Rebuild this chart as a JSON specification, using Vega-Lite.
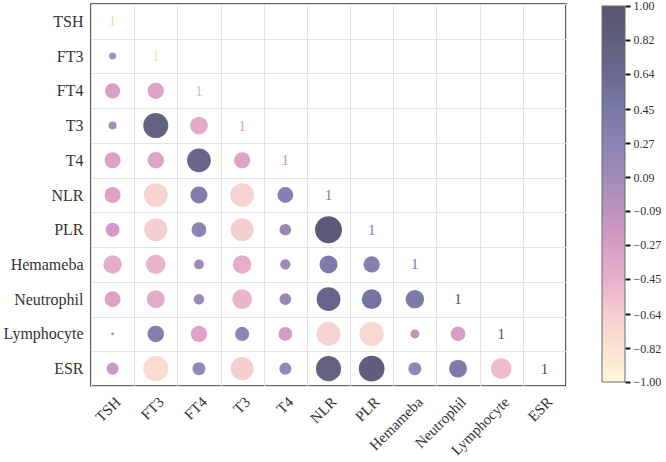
{
  "$schema": "https://vega.github.io/schema/vega-lite/v6.json",
  "background": "white",
  "padding": {"left": 0, "top": -5, "right": 0, "bottom": 0},
  "datasets": {
    "corr": [
      {"row": "TSH", "col": "TSH", "r": 1},
      {"row": "FT3", "col": "TSH", "r": 0.06}, {"row": "FT3", "col": "FT3", "r": 1},
      {"row": "FT4", "col": "TSH", "r": -0.29}, {"row": "FT4", "col": "FT3", "r": -0.33}, {"row": "FT4", "col": "FT4", "r": 1},
      {"row": "T3", "col": "TSH", "r": 0.08}, {"row": "T3", "col": "FT3", "r": 0.78}, {"row": "T3", "col": "FT4", "r": -0.39}, {"row": "T3", "col": "T3", "r": 1},
      {"row": "T4", "col": "TSH", "r": -0.32}, {"row": "T4", "col": "FT3", "r": -0.34}, {"row": "T4", "col": "FT4", "r": 0.7}, {"row": "T4", "col": "T3", "r": -0.33}, {"row": "T4", "col": "T4", "r": 1},
      {"row": "NLR", "col": "TSH", "r": -0.32}, {"row": "NLR", "col": "FT3", "r": -0.7}, {"row": "NLR", "col": "FT4", "r": 0.36}, {"row": "NLR", "col": "T3", "r": -0.7}, {"row": "NLR", "col": "T4", "r": 0.31}, {"row": "NLR", "col": "NLR", "r": 1},
      {"row": "PLR", "col": "TSH", "r": -0.24}, {"row": "PLR", "col": "FT3", "r": -0.66}, {"row": "PLR", "col": "FT4", "r": 0.27}, {"row": "PLR", "col": "T3", "r": -0.65}, {"row": "PLR", "col": "T4", "r": 0.17}, {"row": "PLR", "col": "NLR", "r": 0.9}, {"row": "PLR", "col": "PLR", "r": 1},
      {"row": "Hemameba", "col": "TSH", "r": -0.42}, {"row": "Hemameba", "col": "FT3", "r": -0.47}, {"row": "Hemameba", "col": "FT4", "r": 0.12}, {"row": "Hemameba", "col": "T3", "r": -0.42}, {"row": "Hemameba", "col": "T4", "r": 0.13}, {"row": "Hemameba", "col": "NLR", "r": 0.4}, {"row": "Hemameba", "col": "PLR", "r": 0.33}, {"row": "Hemameba", "col": "Hemameba", "r": 1},
      {"row": "Neutrophil", "col": "TSH", "r": -0.32}, {"row": "Neutrophil", "col": "FT3", "r": -0.4}, {"row": "Neutrophil", "col": "FT4", "r": 0.14}, {"row": "Neutrophil", "col": "T3", "r": -0.49}, {"row": "Neutrophil", "col": "T4", "r": 0.17}, {"row": "Neutrophil", "col": "NLR", "r": 0.7}, {"row": "Neutrophil", "col": "PLR", "r": 0.49}, {"row": "Neutrophil", "col": "Hemameba", "r": 0.42}, {"row": "Neutrophil", "col": "Neutrophil", "r": 1},
      {"row": "Lymphocyte", "col": "TSH", "r": -0.01}, {"row": "Lymphocyte", "col": "FT3", "r": 0.34}, {"row": "Lymphocyte", "col": "FT4", "r": -0.33}, {"row": "Lymphocyte", "col": "T3", "r": 0.25}, {"row": "Lymphocyte", "col": "T4", "r": -0.23}, {"row": "Lymphocyte", "col": "NLR", "r": -0.7}, {"row": "Lymphocyte", "col": "PLR", "r": -0.75}, {"row": "Lymphocyte", "col": "Hemameba", "r": -0.1}, {"row": "Lymphocyte", "col": "Neutrophil", "r": -0.27}, {"row": "Lymphocyte", "col": "Lymphocyte", "r": 1},
      {"row": "ESR", "col": "TSH", "r": -0.18}, {"row": "ESR", "col": "FT3", "r": -0.78}, {"row": "ESR", "col": "FT4", "r": 0.21}, {"row": "ESR", "col": "T3", "r": -0.66}, {"row": "ESR", "col": "T4", "r": 0.18}, {"row": "ESR", "col": "NLR", "r": 0.78}, {"row": "ESR", "col": "PLR", "r": 0.82}, {"row": "ESR", "col": "Hemameba", "r": 0.21}, {"row": "ESR", "col": "Neutrophil", "r": 0.4}, {"row": "ESR", "col": "Lymphocyte", "r": -0.53}, {"row": "ESR", "col": "ESR", "r": 1}
    ],
    "bar": [{"lo": -1, "hi": 1}]
  },
  "spacing": 34,
  "hconcat": [
    {
      "width": 475,
      "height": 382,
      "data": {"name": "corr"},
      "view": {"stroke": "#333333", "strokeWidth": 1.6},
      "encoding": {
        "x": {
          "field": "col", "type": "nominal",
          "sort": ["TSH", "FT3", "FT4", "T3", "T4", "NLR", "PLR", "Hemameba", "Neutrophil", "Lymphocyte", "ESR"],
          "scale": {"paddingInner": 0, "paddingOuter": 0},
          "axis": {
            "title": null, "domain": false, "ticks": false, "tickSize": 0, "tickBand": "extent",
            "grid": true, "gridColor": "#e3e3e3", "gridWidth": 1,
            "labelAngle": -45, "labelAlign": "right", "labelBaseline": "top", "labelPadding": 8,
            "labelFont": "Liberation Serif", "labelFontSize": 15, "labelColor": "#333333"
          }
        },
        "y": {
          "field": "row", "type": "nominal",
          "sort": ["TSH", "FT3", "FT4", "T3", "T4", "NLR", "PLR", "Hemameba", "Neutrophil", "Lymphocyte", "ESR"],
          "scale": {"paddingInner": 0, "paddingOuter": 0},
          "axis": {
            "title": null, "domain": false, "ticks": false, "tickSize": 0, "tickBand": "extent",
            "grid": true, "gridColor": "#e3e3e3", "gridWidth": 1,
            "labelPadding": 8, "minExtent": 90, "maxExtent": 90,
            "labelFont": "Liberation Serif", "labelFontSize": 16, "labelColor": "#333333"
          }
        }
      },
      "layer": [
        {
          "transform": [{"filter": "datum.row !== datum.col"}],
          "mark": {"type": "circle", "opacity": 1},
          "encoding": {
            "size": {
              "field": "r", "type": "quantitative", "legend": null,
              "scale": {"type": "linear", "domain": [-1, 0, 1], "range": [804, 0, 804], "zero": false, "nice": false}
            },
            "color": {
              "field": "r", "type": "quantitative", "legend": null,
              "scale": {
                "type": "linear", "interpolate": "rgb",
                "domain": [-1, -0.82, -0.64, -0.45, -0.27, -0.09, 0.09, 0.27, 0.45, 0.64, 0.82, 1],
                "range": ["#fff6da", "#fbe2d2", "#f4cccf", "#e9b0ca", "#d89dc4", "#bc93bd", "#a28cb8", "#8a84b3", "#7878a6", "#6a6a90", "#5f5f7d", "#575770"]
              }
            }
          }
        },
        {
          "transform": [{"filter": "datum.row === datum.col"}],
          "mark": {"type": "text", "font": "Liberation Serif", "fontSize": 15},
          "encoding": {
            "text": {"field": "r", "type": "quantitative", "format": "d"},
            "color": {
              "field": "col", "type": "nominal", "legend": null,
              "scale": {
                "domain": ["TSH", "FT3", "FT4", "T3", "T4", "NLR", "PLR", "Hemameba", "Neutrophil", "Lymphocyte", "ESR"],
                "range": ["#f6dc98", "#f8e6b4", "#eeb4bc", "#e09ec6", "#c48ec0", "#7c7ab0", "#8482b8", "#7c7ab0", "#4e4e68", "#4e4e68", "#4e4e68"]
              }
            }
          }
        }
      ],
      "resolve": {"scale": {"color": "independent"}}
    },
    {
      "width": 23,
      "height": 382,
      "data": {"name": "bar"},
      "view": {"stroke": null},
      "mark": {
        "type": "rect",
        "stroke": "#6b6b6b",
        "strokeWidth": 1,
        "color": {
          "gradient": "linear",
          "x1": 0, "y1": 1, "x2": 0, "y2": 0,
          "stops": [
            {"offset": 0, "color": "#fff6da"},
            {"offset": 0.0909, "color": "#fbe2d2"},
            {"offset": 0.1818, "color": "#f4cccf"},
            {"offset": 0.2727, "color": "#e9b0ca"},
            {"offset": 0.3636, "color": "#d89dc4"},
            {"offset": 0.4545, "color": "#bc93bd"},
            {"offset": 0.5455, "color": "#a28cb8"},
            {"offset": 0.6364, "color": "#8a84b3"},
            {"offset": 0.7273, "color": "#7878a6"},
            {"offset": 0.8182, "color": "#6a6a90"},
            {"offset": 0.9091, "color": "#5f5f7d"},
            {"offset": 1, "color": "#575770"}
          ]
        }
      },
      "encoding": {
        "y": {
          "field": "lo", "type": "quantitative",
          "scale": {"domain": [-1.0213, 1.0106], "nice": false, "zero": false},
          "axis": {
            "orient": "right", "title": null, "domain": false, "grid": false,
            "values": [-1, -0.82, -0.64, -0.45, -0.27, -0.09, 0.09, 0.27, 0.45, 0.64, 0.82, 1],
            "format": ".2f", "tickColor": "#111111", "tickSize": 5, "tickWidth": 2,
            "labelFont": "Liberation Serif", "labelFontSize": 12, "labelColor": "#333333", "labelPadding": 3
          }
        },
        "y2": {"field": "hi"}
      }
    }
  ]
}
